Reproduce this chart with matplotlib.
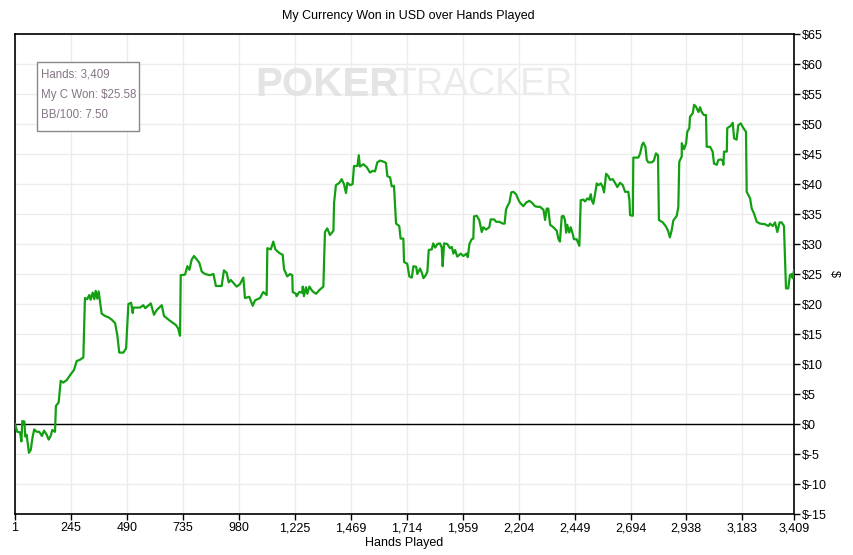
import matplotlib
matplotlib.use('Agg')
import matplotlib.pyplot as plt
from matplotlib.patches import Rectangle
from matplotlib.ticker import FuncFormatter

# hands played vs. cumulative USD won
hands = [1, 11, 23, 29, 33, 42, 46, 52, 62, 70, 77, 85, 96, 107, 119, 128, 140, 148, 157, 164,
         176, 180, 192, 201, 212, 227, 245, 259, 271, 285, 300, 307, 317, 326, 332, 341, 348, 354, 361, 367,
         380, 395, 409, 424, 439, 449, 457, 475, 487, 497, 509, 516, 519, 548, 562, 571, 595, 609, 621, 643,
         653, 679, 705, 715, 723, 726, 745, 755, 764, 774, 784, 799, 807, 818, 832, 854, 869, 880, 905, 915,
         927, 936, 945, 971, 985, 1000, 1007, 1026, 1041, 1051, 1073, 1087, 1102, 1105, 1120, 1131, 1140, 1157, 1172, 1178,
         1192, 1204, 1214, 1216, 1230, 1233, 1245, 1257, 1260, 1265, 1274, 1280, 1289, 1303, 1318, 1332, 1350, 1357, 1367, 1379,
         1394, 1397, 1405, 1420, 1430, 1440, 1449, 1455, 1467, 1478, 1484, 1499, 1505, 1510, 1525, 1540, 1554, 1566, 1576, 1586,
         1598, 1615, 1624, 1630, 1642, 1649, 1659, 1668, 1682, 1688, 1700, 1703, 1717, 1726, 1737, 1744, 1756, 1761, 1773, 1781,
         1788, 1798, 1805, 1811, 1824, 1831, 1839, 1849, 1860, 1868, 1872, 1878, 1892, 1904, 1912, 1919, 1926, 1936, 1951, 1962,
         1977, 1982, 1989, 1999, 2006, 2009, 2021, 2032, 2043, 2050, 2062, 2076, 2082, 2097, 2106, 2120, 2135, 2143, 2149, 2155,
         2164, 2172, 2181, 2193, 2203, 2210, 2225, 2237, 2251, 2262, 2276, 2286, 2298, 2313, 2320, 2327, 2334, 2342, 2356, 2371,
         2378, 2385, 2393, 2400, 2407, 2412, 2417, 2426, 2432, 2441, 2446, 2458, 2470, 2476, 2487, 2495, 2505, 2513, 2520, 2524,
         2531, 2539, 2546, 2553, 2564, 2572, 2578, 2587, 2597, 2604, 2616, 2626, 2636, 2648, 2660, 2670, 2684, 2689, 2692, 2704,
         2706, 2728, 2736, 2744, 2750, 2759, 2765, 2772, 2787, 2796, 2805, 2814, 2818, 2835, 2849, 2859, 2866, 2874, 2881, 2896,
         2903, 2907, 2918, 2918, 2928, 2937, 2942, 2951, 2954, 2966, 2972, 2980, 2991, 2998, 3005, 3015, 3024, 3027, 3042, 3053,
         3059, 3071, 3078, 3089, 3097, 3100, 3103, 3115, 3117, 3132, 3141, 3147, 3158, 3165, 3176, 3188, 3199, 3202, 3217, 3224,
         3234, 3246, 3260, 3282, 3297, 3304, 3316, 3326, 3336, 3346, 3355, 3365, 3374, 3384, 3391, 3398, 3403, 3409]
won = [0.0, -1.3, -1.4, -2.9, 0.5, 0.4, -2.1, -1.8, -4.8, -4.3, -2.4, -0.9, -1.3, -1.3, -2.0, -1.1, -1.8, -2.6, -2.0, -1.0,
       -1.3, 3.0, 3.6, 7.2, 6.9, 7.3, 8.3, 9.0, 10.5, 10.7, 11.1, 21.0, 20.8, 21.5, 20.7, 21.9, 20.8, 22.2, 20.9, 22.1,
       18.4, 18.0, 17.8, 17.4, 16.8, 14.7, 11.9, 11.9, 12.6, 20.0, 20.2, 18.5, 19.4, 19.4, 19.8, 19.3, 20.1, 18.2, 19.0, 19.8,
       18.0, 17.2, 16.5, 15.9, 14.7, 24.8, 24.9, 26.3, 25.7, 27.4, 28.0, 27.3, 26.9, 25.4, 25.0, 24.8, 25.0, 23.0, 23.0, 25.6,
       25.2, 23.6, 24.0, 22.9, 23.3, 24.4, 21.0, 21.2, 19.7, 20.6, 21.0, 22.0, 21.5, 29.3, 29.1, 30.4, 29.1, 28.5, 28.2, 25.8,
       24.6, 25.0, 24.8, 22.0, 21.7, 21.3, 22.0, 21.9, 22.9, 21.3, 22.8, 21.7, 22.9, 22.1, 21.7, 22.3, 22.9, 32.0, 32.6, 31.5,
       32.2, 36.9, 39.8, 40.2, 40.8, 40.0, 38.5, 40.2, 39.8, 40.0, 43.0, 43.0, 44.8, 42.9, 43.3, 42.8, 41.9, 42.2, 42.1, 43.6,
       43.9, 43.7, 43.5, 41.3, 41.1, 39.6, 39.7, 33.4, 33.0, 30.9, 30.9, 27.0, 26.7, 24.6, 24.4, 26.3, 26.2, 25.0, 25.9, 25.2,
       24.3, 24.8, 25.4, 29.0, 29.1, 30.1, 29.4, 30.0, 30.1, 29.4, 26.3, 30.1, 30.0, 29.3, 29.5, 28.4, 29.0, 27.9, 28.4, 28.0,
       28.4, 27.8, 30.0, 30.8, 30.9, 34.6, 34.7, 34.0, 32.0, 32.8, 32.4, 32.8, 34.1, 34.1, 33.7, 33.7, 33.4, 33.4, 35.7, 36.3,
       36.9, 38.6, 38.7, 38.3, 37.4, 36.9, 36.3, 36.9, 37.2, 36.9, 36.3, 36.2, 36.2, 35.7, 34.0, 35.9, 35.9, 33.2, 32.8, 32.2,
       30.9, 30.4, 34.6, 34.7, 34.0, 31.9, 33.2, 31.9, 32.8, 31.7, 30.8, 30.8, 29.7, 37.3, 37.4, 37.1, 37.6, 37.4, 38.3, 37.3,
       36.7, 38.4, 40.1, 39.8, 40.1, 39.5, 38.6, 41.7, 41.3, 40.7, 40.8, 40.2, 39.5, 40.2, 39.8, 38.7, 38.7, 37.3, 34.8, 34.7,
       44.4, 44.4, 45.1, 46.5, 46.9, 46.2, 44.0, 43.6, 43.6, 43.9, 45.1, 44.8, 34.0, 33.6, 32.9, 32.1, 31.1, 32.3, 33.9, 34.7,
       36.2, 43.7, 44.6, 46.8, 45.8, 46.8, 48.7, 49.3, 51.2, 51.8, 53.2, 52.9, 52.0, 52.8, 52.0, 51.5, 51.5, 46.2, 46.2, 45.4,
       43.4, 43.2, 44.0, 44.1, 43.9, 43.2, 45.4, 45.4, 49.3, 49.7, 50.2, 47.6, 47.4, 49.8, 50.1, 49.3, 48.7, 38.7, 37.6, 35.9,
       35.1, 33.7, 33.4, 33.3, 33.0, 33.4, 33.0, 33.6, 32.0, 33.6, 33.6, 33.0, 22.6, 22.6, 24.8, 25.0, 24.3, 25.58]

x_ticks = [1, 245, 490, 735, 980, 1225, 1469, 1714, 1959, 2204, 2449, 2694, 2938, 3183, 3409]
y_ticks = list(range(-15, 70, 5))
info_lines = ['Hands: 3,409', 'My C Won: $25.58', 'BB/100: 7.50']

plt.rcParams['font.family'] = ['Liberation Sans', 'DejaVu Sans']

fig = plt.figure(figsize=(8.54, 5.55), dpi=100)
ax = fig.add_axes([15/854, 41/555, 779/854, 480/555])

ax.plot(hands, won, color='#12a012', lw=1.6, zorder=3)
ax.axhline(0, color='black', lw=1, zorder=2)

ax.set_xlim(1, 3409)
ax.set_ylim(-15, 65)
ax.set_xticks(x_ticks)
ax.xaxis.set_major_formatter(FuncFormatter(lambda v, p: '{:,}'.format(int(v))))
ax.set_yticks(y_ticks)
ax.yaxis.set_major_formatter(FuncFormatter(lambda v, p: '$' + str(int(v))))
ax.yaxis.tick_right()
ax.yaxis.set_label_position('right')
ax.tick_params(axis='both', direction='out', length=4, width=1, labelsize=9, colors='black', pad=2)
ax.grid(True, color='#ececec', lw=1, zorder=0)
ax.set_axisbelow(True)
for s in ax.spines.values():
    s.set_linewidth(1.2)
    s.set_color('black')

ax.set_xlabel('Hands Played', fontsize=9, labelpad=2)
ax.set_ylabel('$', fontsize=9, rotation=270, labelpad=9)
fig.text(0.5 * (15 + 794) / 854 + 0.005, 1 - 16/555, 'My Currency Won in USD over Hands Played',
         ha='center', va='center', fontsize=9)

# watermark
ax.text(0.308, 0.893, 'POKER', transform=ax.transAxes, fontsize=29, fontweight='bold',
        color='#e4e4e4', ha='left', va='center', zorder=1)
ax.text(0.486, 0.893, 'TRACKER', transform=ax.transAxes, fontsize=27,
        color='#ebebeb', ha='left', va='center', zorder=1)

# info box
ax.add_patch(Rectangle((0.0282, 0.798), 0.131, 0.1437, transform=ax.transAxes,
                       fc='white', ec='#888888', lw=1, zorder=4))
for i, line in enumerate(info_lines):
    ax.text(0.0334, 0.9146 - i * 0.0417, line, transform=ax.transAxes, fontsize=8.3,
            color='#857585', ha='left', va='center', zorder=5)

fig.savefig('out.png', dpi=100)
